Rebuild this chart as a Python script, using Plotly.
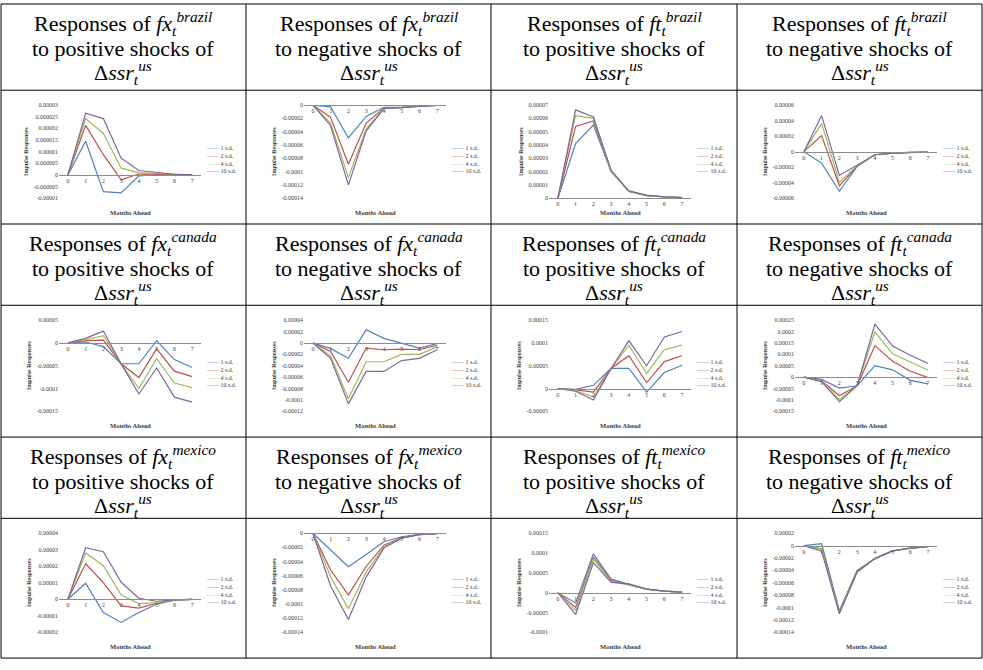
import plotly.graph_objects as go

W, H = 983, 670

# ---------------------------------------------------------------- data
months = [0, 1, 2, 3, 4, 5, 6, 7]
shock_sizes = ["1 s.d.", "2 s.d.", "4 s.d.", "10 s.d."]
line_colors = ["#4F81BD", "#C0504D", "#9BBB59", "#8064A2"]

countries = ["brazil", "canada", "mexico"]
variables = ["fx", "fx", "ft", "ft"]
directions = ["positive", "negative", "positive", "negative"]

# impulse responses, one list per shock size (1, 2, 4, 10 s.d.)
fx_brazil_pos = [
    [0, 14.5e-6, -7.2e-6, -7.7e-6, -0.4e-6, 0.1e-6, 0.0, 0.0],
    [0, 21.3e-6, 8.7e-6, -2.1e-6, 0.4e-6, 0.3e-6, 0.1e-6, 0.0],
    [0, 24.2e-6, 17.8e-6, 2.9e-6, 1.0e-6, 0.6e-6, 0.2e-6, 0.0],
    [0, 26.5e-6, 24.2e-6, 7.2e-6, 1.9e-6, 1.0e-6, 0.3e-6, 0.1e-6],
]
fx_brazil_neg = [
    [0, -2.7e-6, -49.4e-6, -17e-6, -3.4e-6, -3e-6, -1e-6, 0.0],
    [0, -18.5e-6, -89e-6, -27e-6, -4.5e-6, -4e-6, -1.5e-6, -0.5e-6],
    [0, -27e-6, -109e-6, -36e-6, -5e-6, -4e-6, -1.5e-6, -0.5e-6],
    [0, -31e-6, -120e-6, -39e-6, -5.5e-6, -4e-6, -1.5e-6, -0.5e-6],
]
ft_brazil_pos = [
    [0, 41e-6, 55e-6, 20e-6, 5e-6, 2e-6, 1e-6, 0.4e-6],
    [0, 54e-6, 58e-6, 20.5e-6, 5.2e-6, 2e-6, 1e-6, 0.4e-6],
    [0, 62e-6, 60e-6, 20e-6, 5.2e-6, 2.2e-6, 1e-6, 0.4e-6],
    [0, 66.4e-6, 61e-6, 21e-6, 5.5e-6, 2.4e-6, 1.1e-6, 0.4e-6],
]
ft_brazil_neg = [
    [0, -14.7e-6, -51e-6, -19e-6, -4e-6, -2e-6, -1e-6, -0.5e-6],
    [0, 20.6e-6, -44e-6, -18.5e-6, -4e-6, -2e-6, -1e-6, -0.5e-6],
    [0, 36.5e-6, -39.4e-6, -18e-6, -4e-6, -2e-6, -1e-6, -0.5e-6],
    [0, 46.5e-6, -30.6e-6, -17e-6, -4e-6, -2e-6, -1e-6, -0.5e-6],
]
fx_canada_pos = [
    [0, 2e-6, -8e-6, -45.7e-6, -45.7e-6, 5e-6, -36.5e-6, -54e-6],
    [0, 5e-6, 6e-6, -45.7e-6, -76e-6, -13e-6, -62e-6, -74e-6],
    [0, 7e-6, 16e-6, -46e-6, -100e-6, -34.5e-6, -88e-6, -98e-6],
    [0, 10e-6, 26e-6, -46e-6, -112e-6, -55e-6, -119e-6, -130e-6],
]
fx_canada_neg = [
    [0, -10e-6, -27e-6, 23e-6, 8e-6, 0.0, -9e-6, -1e-6],
    [0, -15e-6, -69e-6, -9e-6, -12e-6, -11e-6, -12e-6, -4e-6],
    [0, -23e-6, -98e-6, -33e-6, -33e-6, -20e-6, -20e-6, -7e-6],
    [0, -27e-6, -107e-6, -50e-6, -50e-6, -31e-6, -27e-6, -12e-6],
]
ft_canada_pos = [
    [0, -2e-6, 7e-6, 44e-6, 44e-6, -8e-6, 35e-6, 51e-6],
    [0, -3e-6, -8e-6, 44e-6, 72e-6, 13e-6, 59e-6, 72e-6],
    [0, -5e-6, -18e-6, 44e-6, 95e-6, 33e-6, 85e-6, 95e-6],
    [0, -6e-6, -25e-6, 44e-6, 105e-6, 50e-6, 113e-6, 125e-6],
]
ft_canada_neg = [
    [0, -10e-6, -48e-6, -38e-6, 50e-6, 32e-6, -14e-6, -30e-6],
    [0, -16e-6, -82e-6, -38e-6, 138e-6, 70e-6, 26e-6, -2e-6],
    [0, -18e-6, -98e-6, -38e-6, 198e-6, 102e-6, 66e-6, 30e-6],
    [0, -20e-6, -108e-6, -38e-6, 232e-6, 136e-6, 96e-6, 60e-6],
]
fx_mexico_pos = [
    [0, 9.7e-6, -8e-6, -14e-6, -8e-6, -3e-6, -0.5e-6, 0.0],
    [0, 21.5e-6, 10e-6, -4e-6, -5.3e-6, -2.4e-6, -0.5e-6, 0.0],
    [0, 28e-6, 20.3e-6, 2.6e-6, -2.6e-6, -2e-6, -0.5e-6, 0.0],
    [0, 31.2e-6, 28.8e-6, 10.3e-6, 0.6e-6, -1.2e-6, -0.3e-6, 0.0],
]
fx_mexico_neg = [
    [0, -24e-6, -47.4e-6, -30e-6, -12e-6, -5e-6, -1.5e-6, -0.5e-6],
    [0, -52e-6, -87e-6, -47e-6, -17e-6, -6e-6, -2e-6, -0.5e-6],
    [0, -62e-6, -106.6e-6, -55e-6, -19e-6, -7e-6, -2e-6, -0.5e-6],
    [0, -74.6e-6, -122e-6, -62e-6, -21e-6, -7e-6, -2e-6, -0.5e-6],
]
ft_mexico_pos = [
    [0, -26e-6, 98e-6, 34e-6, 21e-6, 9e-6, 4e-6, 1.5e-6],
    [0, -37e-6, 90e-6, 31e-6, 20e-6, 9e-6, 4e-6, 1.5e-6],
    [0, -45e-6, 85e-6, 29e-6, 19e-6, 8e-6, 4e-6, 1.5e-6],
    [0, -55e-6, 76e-6, 26e-6, 22e-6, 9e-6, 4e-6, 1.5e-6],
]
ft_mexico_neg = [
    [0, 3e-6, -105e-6, -40e-6, -21e-6, -8.5e-6, -4e-6, -1.5e-6],
    [0, -5e-6, -107e-6, -41e-6, -21e-6, -8.5e-6, -4e-6, -1.5e-6],
    [0, -6e-6, -108e-6, -42e-6, -21e-6, -8.5e-6, -4e-6, -1.5e-6],
    [0, -9e-6, -110e-6, -43e-6, -21e-6, -8.5e-6, -4e-6, -1.5e-6],
]

# y tick labels for each panel (bottom to top)
yticks_fx_brazil_pos = ["-0.00001", "-0.000005", "0", "0.000005", "0.00001",
                        "0.000015", "0.00002", "0.000025", "0.00003"]
yticks_fx_brazil_neg = ["-0.00014", "-0.00012", "-0.0001", "-0.00008", "-0.00006",
                        "-0.00004", "-0.00002", "0"]
yticks_ft_brazil_pos = ["0", "0.00001", "0.00002", "0.00003", "0.00004",
                        "0.00005", "0.00006", "0.00007"]
yticks_ft_brazil_neg = ["-0.00006", "-0.00004", "-0.00002", "0", "0.00002",
                        "0.00004", "0.00006"]
yticks_fx_canada_pos = ["-0.00015", "-0.0001", "-0.00005", "0", "0.00005"]
yticks_fx_canada_neg = ["-0.00012", "-0.0001", "-0.00008", "-0.00006", "-0.00004",
                        "-0.00002", "0", "0.00002", "0.00004"]
yticks_ft_canada_pos = ["-0.00005", "0", "0.00005", "0.0001", "0.00015"]
yticks_ft_canada_neg = ["-0.00015", "-0.0001", "-0.00005", "0", "0.00005",
                        "0.0001", "0.00015", "0.0002", "0.00025"]
yticks_fx_mexico_pos = ["-0.00002", "-0.00001", "0", "0.00001", "0.00002",
                        "0.00003", "0.00004"]
yticks_fx_mexico_neg = ["-0.00014", "-0.00012", "-0.0001", "-0.00008", "-0.00006",
                        "-0.00004", "-0.00002", "0"]
yticks_ft_mexico_pos = ["-0.0001", "-0.00005", "0", "0.00005", "0.0001", "0.00015"]
yticks_ft_mexico_neg = ["-0.00014", "-0.00012", "-0.0001", "-0.00008", "-0.00006",
                        "-0.00004", "-0.00002", "0", "0.00002"]

panels = [
    [(fx_brazil_pos, yticks_fx_brazil_pos), (fx_brazil_neg, yticks_fx_brazil_neg),
     (ft_brazil_pos, yticks_ft_brazil_pos), (ft_brazil_neg, yticks_ft_brazil_neg)],
    [(fx_canada_pos, yticks_fx_canada_pos), (fx_canada_neg, yticks_fx_canada_neg),
     (ft_canada_pos, yticks_ft_canada_pos), (ft_canada_neg, yticks_ft_canada_neg)],
    [(fx_mexico_pos, yticks_fx_mexico_pos), (fx_mexico_neg, yticks_fx_mexico_neg),
     (ft_mexico_pos, yticks_ft_mexico_pos), (ft_mexico_neg, yticks_ft_mexico_neg)],
]

# ---------------------------------------------------------------- layout grid (pixels)
col_edges = [1, 246, 491, 737, 982]
row_edges = [1, 88, 223, 305, 438, 520, 661]   # header, chart, header, chart, header, chart

SERIF = "Times New Roman, Liberation Serif, DejaVu Serif, serif"
TITLE_SIZE = 22
SMALL = 6


def fx(px):
    return px / W


def fy(py):
    return 1 - py / H


fig = go.Figure()
annotations = []
shapes = []
layout_axes = {}

# table rules
for x in col_edges:
    shapes.append(dict(type="line", xref="paper", yref="paper",
                       x0=fx(x), x1=fx(x), y0=fy(row_edges[0]), y1=fy(row_edges[-1]),
                       line=dict(color="#000000", width=1)))
for y in row_edges:
    shapes.append(dict(type="line", xref="paper", yref="paper",
                       x0=fx(col_edges[0]), x1=fx(col_edges[-1]), y0=fy(y), y1=fy(y),
                       line=dict(color="#000000", width=1)))

k = 0
for r, country in enumerate(countries):
    h_top = row_edges[2 * r]
    c_top, c_bot = row_edges[2 * r + 1], row_edges[2 * r + 2]
    for c in range(4):
        L, R = col_edges[c], col_edges[c + 1]
        cx = (L + R) / 2
        var, direction = variables[c], directions[c]

        # cell heading, three lines
        lines = [
            f"Responses of <i>{var}</i><sub><i>t</i></sub><sup><i>{country}</i></sup>",
            f"to {direction} shocks of",
            "Δ<i>ssr</i><sub><i>t</i></sub><sup><i>us</i></sup>",
        ]
        for i, txt in enumerate(lines):
            annotations.append(dict(
                text=txt, xref="paper", yref="paper", x=fx(cx), y=fy(h_top + 20 + 24.5 * i),
                xanchor="center", yanchor="middle", showarrow=False,
                font=dict(family=SERIF, size=TITLE_SIZE, color="#000000")))

        # small line chart
        k += 1
        series, ytick_labels = panels[r][c]
        tickvals = [float(s) for s in ytick_labels]
        ymin, ymax = tickvals[0], tickvals[-1]

        pl, pr = L + 58, L + 200
        pt, pb = c_top + 15, c_bot - 26
        zero_px = pb - (0 - ymin) / (ymax - ymin) * (pb - pt)

        xa = "x" if k == 1 else f"x{k}"
        ya = "y" if k == 1 else f"y{k}"
        for s, (name, col) in enumerate(zip(shock_sizes, line_colors)):
            fig.add_trace(go.Scatter(
                x=months, y=series[s], mode="lines", name=name,
                line=dict(color=col, width=1.2), xaxis=xa, yaxis=ya,
                showlegend=False, hoverinfo="skip"))

        layout_axes["xaxis" if k == 1 else f"xaxis{k}"] = dict(
            domain=[fx(pl), fx(pr)], anchor="free", position=fy(zero_px),
            range=[-0.5, 7.5], tickvals=months, ticktext=[str(m) for m in months],
            showgrid=False, zeroline=False, showline=True, linecolor="#8C8C8C",
            linewidth=0.8, ticks="", tickfont=dict(family=SERIF, size=SMALL, color="#404040"),
            fixedrange=True)
        layout_axes["yaxis" if k == 1 else f"yaxis{k}"] = dict(
            domain=[fy(pb), fy(pt)], anchor=xa, range=[ymin, ymax],
            tickvals=tickvals, ticktext=ytick_labels,
            showgrid=False, zeroline=False, showline=False, ticks="",
            tickfont=dict(family=SERIF, size=SMALL, color="#404040"),
            title=dict(text="<b>Impulse Responses</b>", standoff=4,
                       font=dict(family=SERIF, size=SMALL, color="#404040")),
            fixedrange=True)

        # horizontal axis caption
        annotations.append(dict(
            text="<b>Months Ahead</b>", xref="paper", yref="paper",
            x=fx((pl + pr) / 2), y=fy(c_bot - 12), xanchor="center", yanchor="middle",
            showarrow=False, font=dict(family=SERIF, size=SMALL + 0.5, color="#404040")))

        # series key
        key = "<br>".join(
            f"<span style='color:{col}'>——</span> {name}"
            for name, col in zip(shock_sizes, line_colors))
        annotations.append(dict(
            text=key, xref="paper", yref="paper", x=fx(pr + 3),
            y=fy(pt + 0.58 * (pb - pt)), xanchor="left", yanchor="middle", align="left",
            showarrow=False, font=dict(family=SERIF, size=SMALL, color="#404040")))

fig.update_layout(
    width=W, height=H, margin=dict(l=0, r=0, t=0, b=0),
    paper_bgcolor="#FFFFFF", plot_bgcolor="rgba(0,0,0,0)",
    annotations=annotations, shapes=shapes, showlegend=False,
    **layout_axes)

fig.write_html("out.html", config={"displayModeBar": False})
